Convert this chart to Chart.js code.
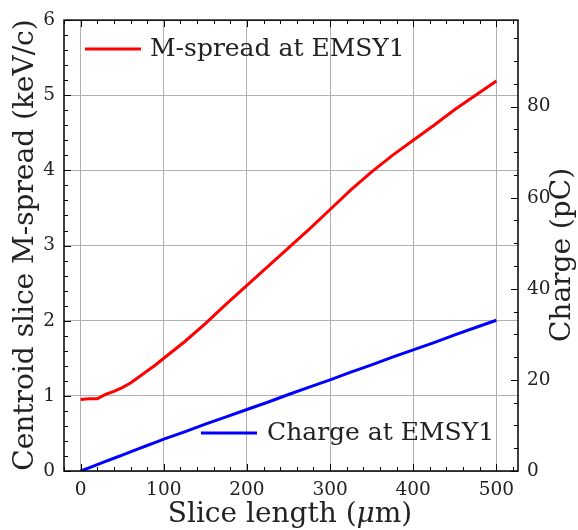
<!DOCTYPE html>
<html>
<head>
<meta charset="utf-8">
<script src="https://cdn.jsdelivr.net/npm/chart.js@4.4.1/dist/chart.umd.min.js"></script>
<style>
  html, body { margin: 0; padding: 0; background: #fff; }
  #wrap { width: 578px; height: 530px; }
</style>
</head>
<body>
<div id="wrap"><canvas id="chart" width="578" height="530"></canvas></div>
<script>
// slice length (um)
const sliceLength = [0, 10, 20, 30, 40, 50, 60, 70, 80, 90, 100, 125, 150, 175, 200, 225, 250, 275, 300, 325, 350, 375, 400, 425, 450, 475, 500];
// centroid slice M-spread (keV/c)
const mSpread = [0.95, 0.96, 0.96, 1.02, 1.06, 1.11, 1.17, 1.25, 1.33, 1.41, 1.50, 1.72, 1.96, 2.22, 2.47, 2.72, 2.97, 3.22, 3.48, 3.74, 3.98, 4.20, 4.40, 4.60, 4.81, 5.00, 5.19];
// charge (pC)
const charge = [0, 0.7, 1.4, 2.1, 2.8, 3.5, 4.2, 4.9, 5.6, 6.3, 7.0, 8.6, 10.3, 11.9, 13.5, 15.1, 16.8, 18.4, 20.0, 21.7, 23.3, 25.0, 26.6, 28.2, 29.9, 31.5, 33.1];

const xTicks = [0, 100, 200, 300, 400, 500];
const leftTicks = [0, 1, 2, 3, 4, 5, 6];
const rightTicks = [0, 20, 40, 60, 80];

const FONT = "'DejaVu Serif', serif";
const TITLE = 28;

// ticks pointing inward, minor ticks, frame, axis titles and legends
const decor = {
  id: "decor",
  afterDatasetsDraw(chart) {
    const { ctx, chartArea: a, scales } = chart;
    const x = scales.x, yl = scales.y, yr = scales.y2;
    ctx.save();
    ctx.strokeStyle = "#000";
    ctx.lineWidth = 1;

    const tick = (p1x, p1y, p2x, p2y) => {
      ctx.beginPath(); ctx.moveTo(p1x, p1y); ctx.lineTo(p2x, p2y); ctx.stroke();
    };

    for (let v = -20; v <= 520; v += 20) {
      const px = Math.round(x.getPixelForValue(v)) + 0.5;
      const len = v % 100 === 0 ? 7 : 4;
      tick(px, a.bottom, px, a.bottom - len);
      tick(px, a.top, px, a.top + len);
    }
    for (let v = 0; v <= 6.001; v += 0.2) {
      const py = Math.round(yl.getPixelForValue(v)) + 0.5;
      const major = Math.abs(v - Math.round(v)) < 1e-6;
      tick(a.left, py, a.left + (major ? 7 : 4), py);
    }
    for (let v = 0; v <= 99; v += 5) {
      const py = Math.round(yr.getPixelForValue(v)) + 0.5;
      tick(a.right, py, a.right - (v % 20 === 0 ? 7 : 4), py);
    }

    ctx.lineWidth = 1.5;
    ctx.strokeRect(a.left, a.top, a.right - a.left, a.bottom - a.top);

    // axis titles
    ctx.fillStyle = "#222";
    ctx.font = TITLE + "px " + FONT;
    ctx.textBaseline = "middle";
    const t1 = "Slice length (", t2 = "\u03bc", t3 = "m)";
    const w1 = ctx.measureText(t1).width, w3 = ctx.measureText(t3).width;
    ctx.font = "italic " + TITLE + "px " + FONT;
    const w2 = ctx.measureText(t2).width;
    let sx = 290 - (w1 + w2 + w3) / 2;
    ctx.textAlign = "left";
    ctx.font = TITLE + "px " + FONT; ctx.fillText(t1, sx, 515);
    ctx.font = "italic " + TITLE + "px " + FONT; ctx.fillText(t2, sx + w1, 515);
    ctx.font = TITLE + "px " + FONT; ctx.fillText(t3, sx + w1 + w2, 515);

    ctx.textAlign = "center";
    ctx.save();
    ctx.translate(26, 245);
    ctx.rotate(-Math.PI / 2);
    ctx.fillText("Centroid slice M-spread (keV/c)", 0, 0);
    ctx.restore();
    ctx.save();
    ctx.translate(563, 255);
    ctx.rotate(-Math.PI / 2);
    ctx.fillText("Charge (pC)", 0, 0);
    ctx.restore();

    // legends
    ctx.font = "25px " + FONT;
    ctx.textAlign = "left";
    ctx.lineWidth = 3;
    ctx.strokeStyle = "#ff0000";
    tick(85, 49, 141, 49);
    ctx.fillText("M-spread at EMSY1", 150, 49);
    ctx.strokeStyle = "#0000ff";
    tick(201, 433, 257, 433);
    ctx.fillText("Charge at EMSY1", 267, 433);
    ctx.restore();
  }
};

const fixSize = (w, h) => scale => {
  if (w != null) scale.width = w;
  if (h != null) scale.height = h;
};

new Chart(document.getElementById("chart"), {
  type: "line",
  data: {
    datasets: [
      {
        label: "M-spread at EMSY1",
        data: sliceLength.map((s, i) => ({ x: s, y: mSpread[i] })),
        borderColor: "#ff0000",
        borderWidth: 3,
        pointRadius: 0,
        tension: 0,
        yAxisID: "y"
      },
      {
        label: "Charge at EMSY1",
        data: sliceLength.map((s, i) => ({ x: s, y: charge[i] })),
        borderColor: "#0000ff",
        borderWidth: 3,
        pointRadius: 0,
        tension: 0,
        yAxisID: "y2"
      }
    ]
  },
  options: {
    responsive: false,
    animation: false,
    layout: { padding: { top: 17, right: 0, left: 0, bottom: 0 } },
    plugins: { legend: { display: false }, tooltip: { enabled: false } },
    scales: {
      x: {
        type: "linear",
        min: -20,
        max: 526,
        afterFit: fixSize(null, 59),
        afterBuildTicks: s => { s.ticks = xTicks.map(v => ({ value: v })); },
        grid: { color: "#b0b0b0", lineWidth: 1, drawTicks: false },
        border: { display: false },
        ticks: { color: "#222", font: { family: FONT, size: 18.5 }, padding: 8 }
      },
      y: {
        position: "left",
        min: 0,
        max: 6,
        afterFit: fixSize(64, null),
        afterBuildTicks: s => { s.ticks = leftTicks.map(v => ({ value: v })); },
        grid: { color: "#b0b0b0", lineWidth: 1, drawTicks: false },
        border: { display: false },
        ticks: { color: "#222", font: { family: FONT, size: 18.5 }, padding: 9 }
      },
      y2: {
        position: "right",
        min: 0,
        max: 99,
        afterFit: fixSize(60, null),
        afterBuildTicks: s => { s.ticks = rightTicks.map(v => ({ value: v })); },
        grid: { display: false, drawTicks: false },
        border: { display: false },
        ticks: { color: "#222", font: { family: FONT, size: 18.5 }, padding: 9 }
      }
    }
  },
  plugins: [decor]
});
</script>
</body>
</html>
